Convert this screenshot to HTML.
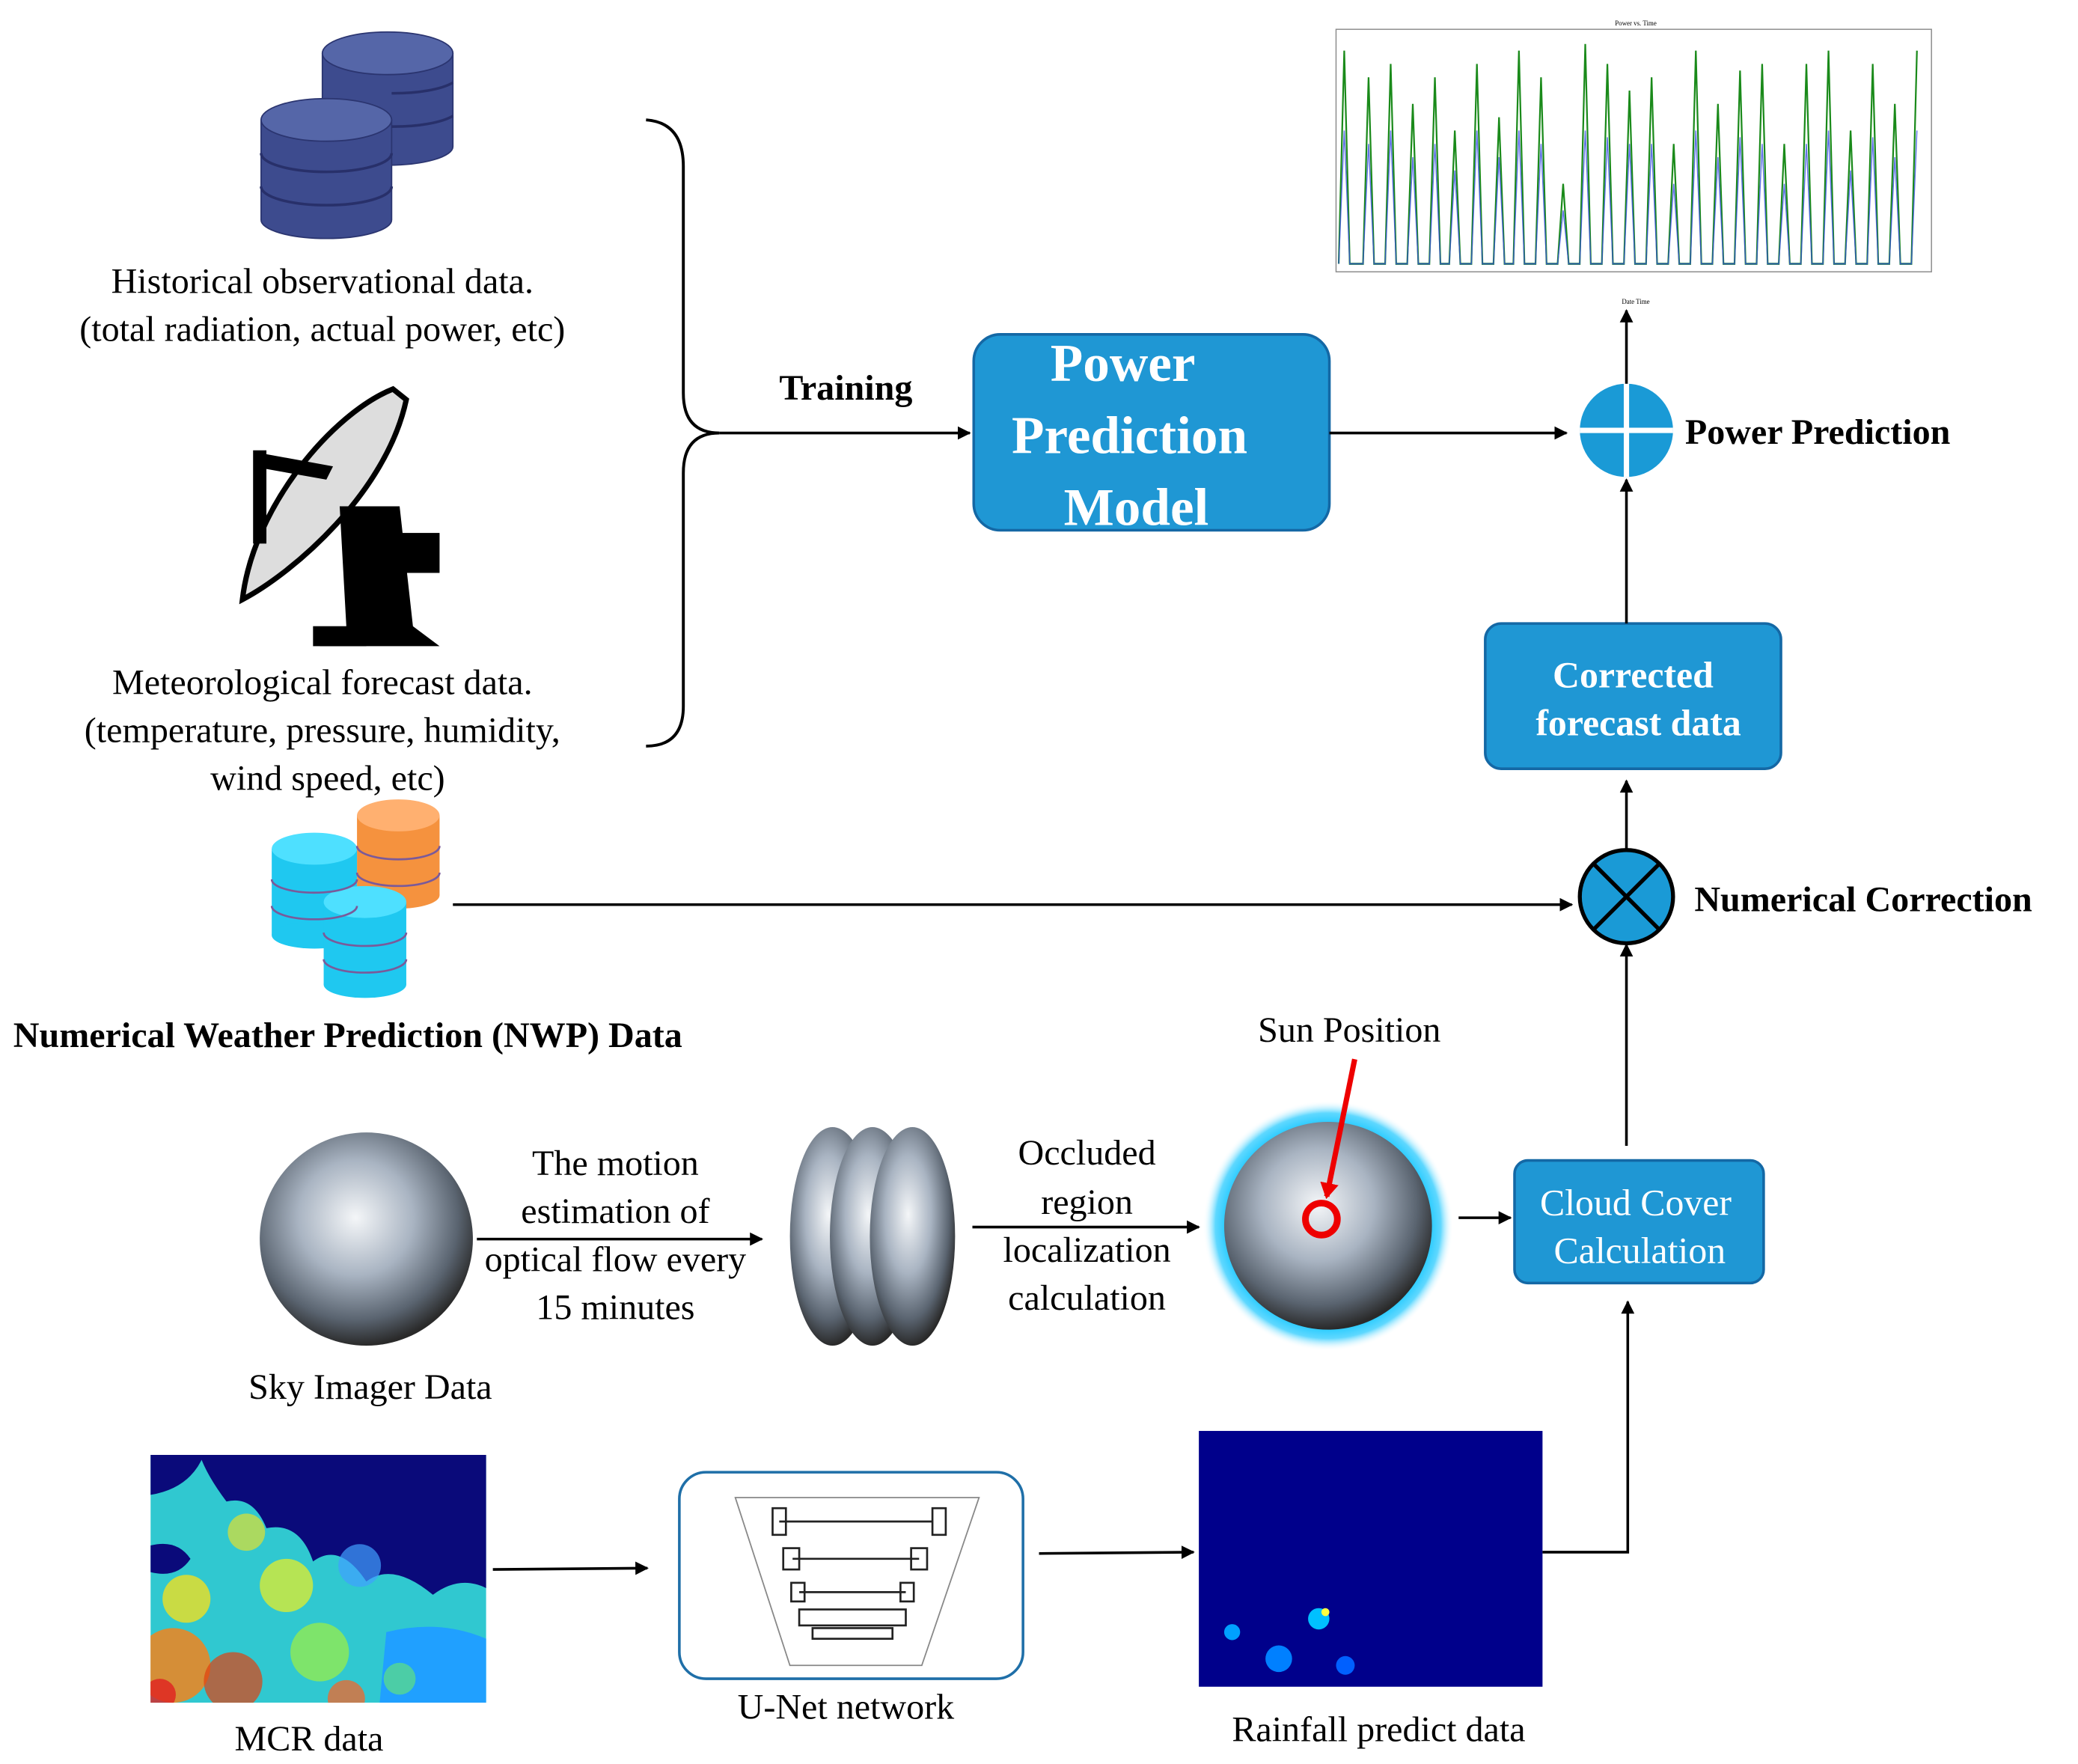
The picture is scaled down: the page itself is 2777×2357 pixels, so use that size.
<!DOCTYPE html>
<html><head><meta charset="utf-8">
<style>
html,body{margin:0;padding:0;background:#fff;}
svg{display:block;}
text{font-family:"Liberation Serif",serif;}
</style></head>
<body>
<svg width="2777" height="2357" viewBox="0 0 1560 1324" preserveAspectRatio="none" xmlns="http://www.w3.org/2000/svg">
<defs>
<marker id="ah" markerWidth="10" markerHeight="10" refX="9" refY="5" orient="auto" markerUnits="userSpaceOnUse">
<path d="M0,0 L10,5 L0,10 z" fill="#000"/></marker>
<marker id="ahr" markerWidth="14" markerHeight="14" refX="10" refY="7" orient="auto" markerUnits="userSpaceOnUse">
<path d="M0,0 L12,7 L0,14 z" fill="#e00"/></marker>
<radialGradient id="sky" cx="45%" cy="40%" r="60%">
<stop offset="0" stop-color="#f4f6f8"/><stop offset="0.45" stop-color="#a9b4c2"/><stop offset="0.8" stop-color="#5a6470"/><stop offset="1" stop-color="#2a2a2a"/></radialGradient>
<radialGradient id="glow" cx="50%" cy="50%" r="50%">
<stop offset="0.8" stop-color="#1ec8ff"/><stop offset="0.9" stop-color="#5fd8ff"/><stop offset="1" stop-color="#ffffff" stop-opacity="0"/></radialGradient>
<clipPath id="mcrclip"><rect x="113" y="1092" width="252" height="186"/></clipPath>
</defs>

<!-- DB icon top -->
<g fill="#3d4b8e" stroke="#2b3570" stroke-width="1">
<path d="M242,40 v70 a49,14 0 0 0 98,0 v-70 z"/><ellipse cx="291" cy="40" rx="49" ry="16" fill="#5566a8"/>
<path d="M196,90 v75 a49,14 0 0 0 98,0 v-75 z"/><ellipse cx="245" cy="90" rx="49" ry="16" fill="#5566a8"/>
</g>
<g stroke="#28306a" stroke-width="2" fill="none">
<path d="M196,115 a49,14 0 0 0 98,0"/><path d="M196,140 a49,14 0 0 0 98,0"/>
<path d="M294,70 a49,14 0 0 0 46,-8"/><path d="M294,95 a49,14 0 0 0 46,-8"/>
</g>
<text x="242" y="220" font-size="27" text-anchor="middle">Historical observational data.</text>
<text x="242" y="256" font-size="27" text-anchor="middle">(total radiation, actual power, etc)</text>

<!-- satellite dish -->
<g fill="#000">
<path d="M295,292 C250,310 190,380 182,450 C220,430 290,370 305,300 z" fill="#ddd" stroke="#000" stroke-width="4"/>
<path d="M195,340 L250,350 L245,360 L200,352 z"/>
<rect x="190" y="338" width="10" height="70"/>
<path d="M255,380 L300,380 L310,470 L330,485 L240,485 L260,470 z"/>
<rect x="300" y="400" width="30" height="30"/>
<rect x="235" y="470" width="40" height="15"/>
</g>
<text x="242" y="521" font-size="27" text-anchor="middle">Meteorological  forecast data.</text>
<text x="242" y="557" font-size="27" text-anchor="middle">(temperature, pressure, humidity,</text>
<text x="246" y="593" font-size="27" text-anchor="middle">wind speed, etc)</text>

<!-- brace -->
<path d="M485,90 Q513,92 513,125 L513,295 Q513,325 540,325 Q513,325 513,355 L513,530 Q513,560 485,560" fill="none" stroke="#000" stroke-width="2.2"/>
<line x1="540" y1="325" x2="728" y2="325" stroke="#000" stroke-width="2" marker-end="url(#ah)"/>
<text x="635" y="300" font-size="27" font-weight="bold" text-anchor="middle">Training</text>

<!-- Power prediction model -->
<rect x="731" y="251" width="267" height="147" rx="20" fill="#1f97d4" stroke="#1468a5" stroke-width="2"/>
<text x="843" y="286" font-size="40" font-weight="bold" fill="#fff" text-anchor="middle">Power</text>
<text x="848" y="340" font-size="40" font-weight="bold" fill="#fff" text-anchor="middle">Prediction</text>
<text x="853" y="394" font-size="40" font-weight="bold" fill="#fff" text-anchor="middle">Model</text>
<line x1="998" y1="325" x2="1176" y2="325" stroke="#000" stroke-width="2" marker-end="url(#ah)"/>

<!-- plus circle -->
<circle cx="1221" cy="323" r="35" fill="#1a9ad6"/>
<line x1="1186" y1="323" x2="1256" y2="323" stroke="#fff" stroke-width="4"/>
<line x1="1221" y1="288" x2="1221" y2="358" stroke="#fff" stroke-width="4"/>
<text x="1265" y="333" font-size="27" font-weight="bold">Power Prediction</text>
<line x1="1221" y1="288" x2="1221" y2="233" stroke="#000" stroke-width="2" marker-end="url(#ah)"/>

<!-- chart -->
<g>
<text x="1228" y="19" font-size="5" text-anchor="middle">Power vs. Time</text>
<rect x="1003" y="22" width="447" height="182" fill="#fff" stroke="#888" stroke-width="0.8"/>
<g transform="translate(1005,0) scale(0.83,1) translate(-1005,0)">
<path d="M1005,198 l5,-160 l5,160 l12,0 l5,-140 l5,140 l10,0 l5,-150 l5,150 l10,0 l5,-120 l5,120 l10,0 l5,-140 l5,140 l8,0 l5,-100 l5,100 l10,0 l5,-150 l5,150 l10,0 l5,-110 l5,110 l8,0 l5,-160 l5,160 l10,0 l5,-140 l5,140 l10,0 l5,-60 l5,60 l10,0 l5,-165 l5,165 l10,0 l5,-150 l5,150 l10,0 l5,-130 l5,130 l10,0 l5,-140 l5,140 l10,0 l5,-90 l5,90 l10,0 l5,-160 l5,160 l10,0 l5,-120 l5,120 l10,0 l5,-145 l5,145 l10,0 l5,-150 l5,150 l10,0 l5,-90 l5,90 l10,0 l5,-150 l5,150 l10,0 l5,-160 l5,160 l10,0 l5,-100 l5,100 l10,0 l5,-150 l5,150 l10,0 l5,-120 l5,120 l10,0 l5,-160" fill="none" stroke="#1a8a1a" stroke-width="1.5"/>
<path d="M1005,198 l5,-100 l5,100 l12,0 l5,-90 l5,90 l10,0 l5,-100 l5,100 l10,0 l5,-80 l5,80 l10,0 l5,-90 l5,90 l8,0 l5,-70 l5,70 l10,0 l5,-100 l5,100 l10,0 l5,-80 l5,80 l8,0 l5,-100 l5,100 l10,0 l5,-90 l5,90 l10,0 l5,-40 l5,40 l10,0 l5,-100 l5,100 l10,0 l5,-95 l5,95 l10,0 l5,-90 l5,90 l10,0 l5,-90 l5,90 l10,0 l5,-60 l5,60 l10,0 l5,-100 l5,100 l10,0 l5,-80 l5,80 l10,0 l5,-95 l5,95 l10,0 l5,-90 l5,90 l10,0 l5,-60 l5,60 l10,0 l5,-90 l5,90 l10,0 l5,-100 l5,100 l10,0 l5,-70 l5,70 l10,0 l5,-95 l5,95 l10,0 l5,-80 l5,80 l10,0 l5,-100" fill="none" stroke="#3a50e0" stroke-width="1" opacity="0.8"/>
</g>
<text x="1228" y="228" font-size="5" text-anchor="middle">Date Time</text>
</g>

<!-- corrected -->
<rect x="1115" y="468" width="222" height="109" rx="12" fill="#1f97d4" stroke="#1468a5" stroke-width="2"/>
<text x="1226" y="516" font-size="28" font-weight="bold" fill="#fff" text-anchor="middle">Corrected</text>
<text x="1230" y="552" font-size="28" font-weight="bold" fill="#fff" text-anchor="middle">forecast data</text>
<line x1="1221" y1="468" x2="1221" y2="360" stroke="#000" stroke-width="2" marker-end="url(#ah)"/>
<line x1="1221" y1="638" x2="1221" y2="586" stroke="#000" stroke-width="2" marker-end="url(#ah)"/>

<!-- X circle -->
<circle cx="1221" cy="673" r="35" fill="#1a9ad6" stroke="#000" stroke-width="3"/>
<line x1="1196" y1="648" x2="1246" y2="698" stroke="#000" stroke-width="3"/>
<line x1="1246" y1="648" x2="1196" y2="698" stroke="#000" stroke-width="3"/>
<text x="1272" y="684" font-size="27" font-weight="bold">Numerical Correction</text>

<!-- NWP stacks -->
<g>
<rect x="268" y="612" width="62" height="60" fill="#f5923e"/><ellipse cx="299" cy="612" rx="31" ry="12" fill="#ffb070"/><ellipse cx="299" cy="672" rx="31" ry="10" fill="#f5923e"/>
<rect x="204" y="637" width="64" height="65" fill="#1fc8f0"/><ellipse cx="236" cy="637" rx="32" ry="12" fill="#4ee0ff"/><ellipse cx="236" cy="702" rx="32" ry="10" fill="#1fc8f0"/>
<rect x="243" y="677" width="62" height="62" fill="#1fc8f0"/><ellipse cx="274" cy="677" rx="31" ry="12" fill="#4ee0ff"/><ellipse cx="274" cy="739" rx="31" ry="10" fill="#1fc8f0"/>
<g stroke="#7a5a9a" stroke-width="1.5" fill="none">
<path d="M204,660 a32,10 0 0 0 64,0 M204,680 a32,10 0 0 0 64,0 M243,700 a31,10 0 0 0 62,0 M243,720 a31,10 0 0 0 62,0 M268,635 a31,10 0 0 0 62,0 M268,655 a31,10 0 0 0 62,0"/>
</g>
</g>
<line x1="340" y1="679" x2="1180" y2="679" stroke="#000" stroke-width="2" marker-end="url(#ah)"/>
<text x="10" y="786" font-size="27" font-weight="bold">Numerical Weather Prediction (NWP) Data</text>
<line x1="1221" y1="860" x2="1221" y2="709" stroke="#000" stroke-width="2" marker-end="url(#ah)"/>

<!-- sky imager -->
<circle cx="275" cy="930" r="80" fill="url(#sky)"/>
<text x="278" y="1050" font-size="27" text-anchor="middle">Sky Imager Data</text>
<g font-size="27" text-anchor="middle">
<text x="462" y="882">The motion</text><text x="462" y="918">estimation of</text>
<text x="462" y="954">optical flow every</text><text x="462" y="990">15 minutes</text>
</g>
<line x1="358" y1="930" x2="572" y2="930" stroke="#000" stroke-width="2" marker-end="url(#ah)"/>
<ellipse cx="625" cy="928" rx="32" ry="82" fill="url(#sky)"/>
<ellipse cx="655" cy="928" rx="32" ry="82" fill="url(#sky)"/>
<ellipse cx="685" cy="928" rx="32" ry="82" fill="url(#sky)"/>
<g font-size="27" text-anchor="middle">
<text x="816" y="874">Occluded</text><text x="816" y="911">region</text>
<text x="816" y="947">localization</text><text x="816" y="983">calculation</text>
</g>
<line x1="730" y1="921" x2="900" y2="921" stroke="#000" stroke-width="2" marker-end="url(#ah)"/>
<circle cx="997" cy="920" r="94" fill="url(#glow)"/>
<circle cx="997" cy="920" r="78" fill="url(#sky)"/>
<circle cx="992" cy="915" r="12" fill="none" stroke="#e00" stroke-width="5"/>
<line x1="1017" y1="795" x2="996" y2="898" stroke="#e00" stroke-width="4" marker-end="url(#ahr)"/>
<text x="1013" y="782" font-size="27" text-anchor="middle">Sun Position</text>
<line x1="1095" y1="914" x2="1134" y2="914" stroke="#000" stroke-width="2" marker-end="url(#ah)"/>
<rect x="1137" y="871" width="187" height="92" rx="10" fill="#1f97d4" stroke="#1468a5" stroke-width="2"/>
<text x="1228" y="912" font-size="28" fill="#fff" text-anchor="middle">Cloud Cover</text>
<text x="1231" y="948" font-size="28" fill="#fff" text-anchor="middle">Calculation</text>

<!-- MCR -->
<g clip-path="url(#mcrclip)">
<rect x="113" y="1092" width="252" height="186" fill="#30c8d0"/>
<path d="M150,1092 h215 v100 q-20,-10 -40,5 q-30,-25 -50,-10 q-20,-30 -40,-15 q-10,-30 -35,-25 q-10,-25 -30,-20 q-15,-20 -20,-35 z" fill="#0a0a7a"/>
<path d="M113,1092 h40 q-10,25 -40,30 z" fill="#0a0a7a"/>
<path d="M113,1160 q20,-5 30,10 q-10,15 -30,10 z" fill="#0a0a7a"/>
<path d="M290,1225 q40,-10 75,5 v48 h-80 z" fill="#20a0ff"/>
<circle cx="130" cy="1250" r="28" fill="#ff8010" opacity="0.8"/>
<circle cx="175" cy="1262" r="22" fill="#e04010" opacity="0.7"/>
<circle cx="140" cy="1200" r="18" fill="#f0e020" opacity="0.8"/>
<circle cx="215" cy="1190" r="20" fill="#f0f020" opacity="0.7"/>
<circle cx="240" cy="1240" r="22" fill="#a0f040" opacity="0.7"/>
<circle cx="185" cy="1150" r="14" fill="#e0e030" opacity="0.7"/>
<circle cx="260" cy="1275" r="14" fill="#ff6020" opacity="0.7"/>
<circle cx="120" cy="1272" r="12" fill="#e02020" opacity="0.8"/>
<circle cx="300" cy="1260" r="12" fill="#60e080" opacity="0.7"/>
<circle cx="270" cy="1175" r="16" fill="#40a0ff" opacity="0.7"/>
</g>
<text x="232" y="1314" font-size="27" text-anchor="middle">MCR data</text>
<line x1="370" y1="1178" x2="486" y2="1177" stroke="#000" stroke-width="2" marker-end="url(#ah)"/>

<!-- U-Net -->
<rect x="510" y="1105" width="258" height="155" rx="20" fill="#fff" stroke="#1f6fa8" stroke-width="2"/>
<path d="M552,1124 L735,1124 L692,1250 L593,1250 z" fill="none" stroke="#888" stroke-width="1"/>
<g stroke="#222" stroke-width="1.5" fill="none">
<line x1="585" y1="1142" x2="700" y2="1142"/><rect x="580" y="1132" width="10" height="20"/><rect x="700" y="1132" width="10" height="20"/>
<line x1="595" y1="1170" x2="690" y2="1170"/><rect x="588" y="1162" width="12" height="16"/><rect x="684" y="1162" width="12" height="16"/>
<line x1="600" y1="1195" x2="680" y2="1195"/><rect x="594" y="1188" width="10" height="14"/><rect x="676" y="1188" width="10" height="14"/>
<rect x="600" y="1208" width="80" height="12"/><rect x="610" y="1222" width="60" height="8"/>
</g>
<text x="635" y="1290" font-size="27" text-anchor="middle">U-Net network</text>
<line x1="780" y1="1166" x2="896" y2="1165" stroke="#000" stroke-width="2" marker-end="url(#ah)"/>

<!-- Rainfall -->
<rect x="900" y="1074" width="258" height="192" fill="#00008b"/>
<circle cx="990" cy="1215" r="8" fill="#00c0ff"/><circle cx="960" cy="1245" r="10" fill="#0080ff"/>
<circle cx="995" cy="1210" r="3" fill="#ffff40"/><circle cx="925" cy="1225" r="6" fill="#00a0ff"/>
<circle cx="1010" cy="1250" r="7" fill="#0060ff"/>
<text x="1035" y="1307" font-size="27" text-anchor="middle">Rainfall predict data</text>
<polyline points="1158,1165 1222,1165 1222,977" fill="none" stroke="#000" stroke-width="2" marker-end="url(#ah)"/>
</svg>
</body></html>
